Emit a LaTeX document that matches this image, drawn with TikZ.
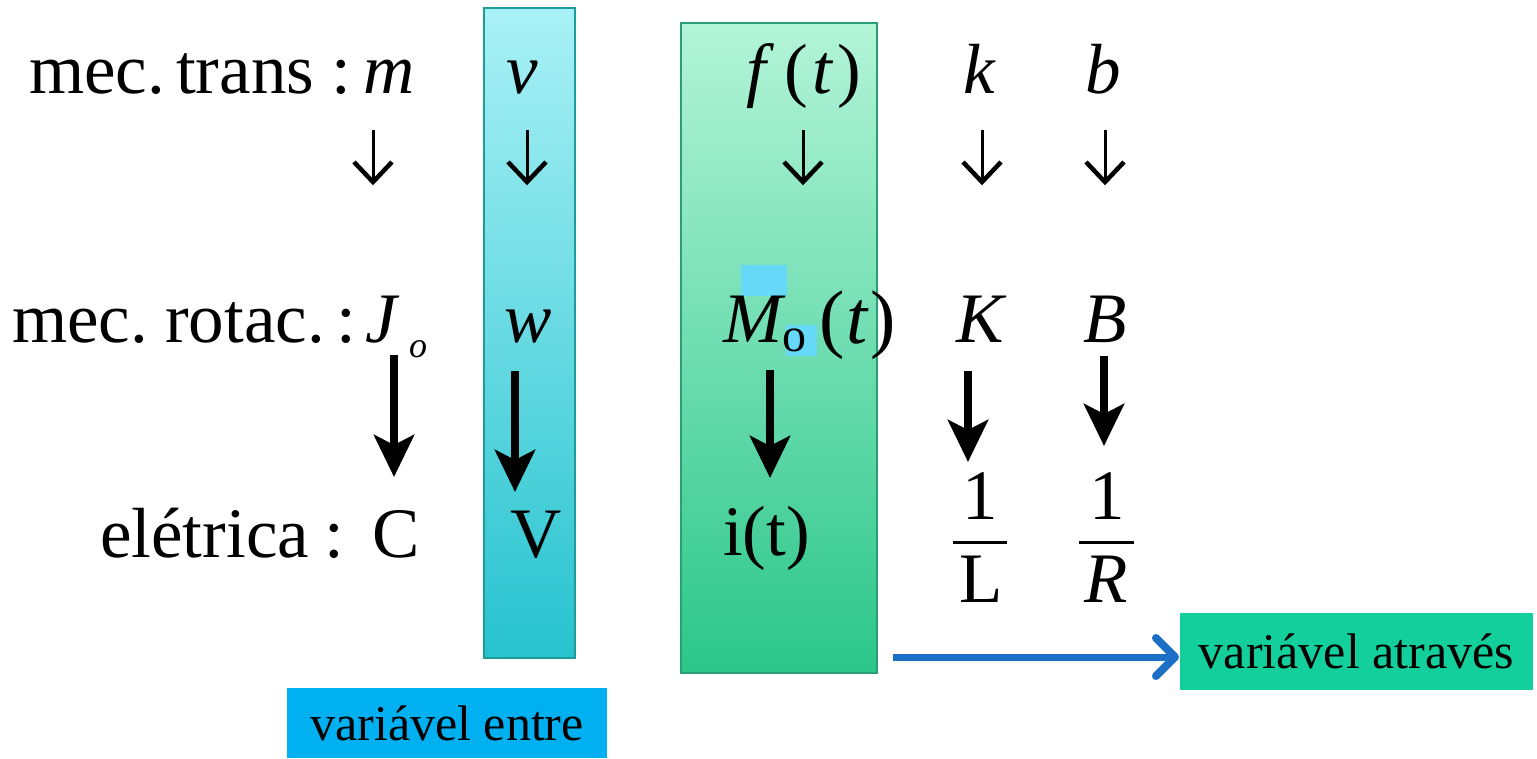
\documentclass[tikz,border=0pt]{standalone}
\usepackage{fontspec}
\setmainfont{Liberation Serif}
\usetikzlibrary{arrows.meta}
\definecolor{cyTop}{HTML}{A9F1F6}
\definecolor{cyBot}{HTML}{27C3CF}
\definecolor{cyBorder}{HTML}{1E9C9C}
\definecolor{grTop}{HTML}{B3F4D8}
\definecolor{grBot}{HTML}{2BC68A}
\definecolor{grBorder}{HTML}{2A9E74}
\definecolor{entreBlue}{HTML}{00B0F0}
\definecolor{atrGreen}{HTML}{13CF9B}
\definecolor{patch}{HTML}{66D8F8}
\definecolor{arrBlue}{HTML}{1B6FC5}
\begin{document}
\begin{tikzpicture}[x=1pt,y=-1pt,
  txt/.style={font=\fontsize{71}{80}\selectfont, inner sep=0pt, anchor=base},
  subtxt/.style={font=\fontsize{36}{40}\selectfont, inner sep=0pt, anchor=base},
  column/.style n args={3}{draw=#3, line width=1.5pt, top color=#1, bottom color=#2, inner sep=0pt},
  labelbox/.style={fill=#1, inner sep=0pt, font=\fontsize{50}{56}\selectfont},
  thinshaft/.style={line width=3pt},
  thinhead/.style={line width=4.5pt, line join=miter},
  thickarr/.style={line width=8pt, -{Stealth[length=42pt, width=40pt, inset=10pt]}},
  blueshaft/.style={draw=arrBlue, line width=7pt},
  bluehead/.style={draw=arrBlue, line width=8pt, line cap=round, line join=round},
  fracbar/.style={line width=3pt}
]
\useasboundingbox (0,0) rectangle (1537,758);

% columns
\node[column={cyTop}{cyBot}{cyBorder}, minimum width=91pt, minimum height=650pt] (vcol) at (529.5,333) {};
\node[column={grTop}{grBot}{grBorder}, minimum width=196pt, minimum height=650pt] (fcol) at (779,348) {};

% blue patches
\fill[patch] (741,265) rectangle (787,296);
\fill[patch] (786,325) rectangle (817,356);

% row 1
\node[txt, anchor=base west] (mec1) at (29,93) {mec.};
\node[txt, anchor=base west] (trans) at (176,93) {trans};
\node[txt] (colon1) at (341,93) {:};
\node[txt] (m) at (389,93) {\textit{m}};
\node[txt] (v) at (522,93) {\textit{v}};
\node[txt, anchor=base west] (f) at (746,93) {\textit{f}\kern10pt(\kern5pt\textit{t}\kern4pt)};
\node[txt] (k) at (980,93) {\textit{k}};
\node[txt] (b) at (1103,93) {\textit{b}};

% thin arrows (glyph-like down arrows)
\foreach \x in {373, 527, 803, 982, 1105} {
  \coordinate (ts\x) at (\x,130);
  \coordinate (te\x) at (\x,182);
  \draw[thinshaft] (ts\x) -- (te\x);
  \draw[thinhead] ([shift={(-19,-20)}]te\x) -- (te\x) -- ([shift={(19,-20)}]te\x);
}

% row 2
\node[txt, anchor=base west] (mec2) at (12,342) {mec.};
\node[txt, anchor=base west] (rotac) at (165,342) {rotac.};
\node[txt] (colon2) at (346,342) {:};
\node[txt] (J) at (383,342) {\textit{J}};
\node[subtxt] (Jo) at (418,357) {\textit{o}};
\node[txt] (w) at (528,342) {\textit{w}};
\node[txt, anchor=base west] (M) at (723,342) {\textit{M}};
\node[inner sep=0pt, anchor=base, font=\fontsize{48}{50}\selectfont] (Mo) at (794,351) {o};
\node[inner sep=0pt, anchor=base west, font=\fontsize{76}{82}\selectfont] (Mt) at (819,343) {(\kern2pt\textit{t}\kern1pt)};
\node[txt] (K) at (982,342) {\textit{K}};
\node[txt] (B) at (1105,342) {\textit{B}};

% thick arrows
\coordinate (ja1) at (394,355);  \coordinate (ja2) at (394,477);
\coordinate (wa1) at (515,371);  \coordinate (wa2) at (515,492);
\coordinate (ma1) at (770,370);  \coordinate (ma2) at (770,478);
\coordinate (ka1) at (968,371);  \coordinate (ka2) at (968,462);
\coordinate (ba1) at (1104,356); \coordinate (ba2) at (1104,446);
\draw[thickarr] (ja1) -- (ja2);
\draw[thickarr] (wa1) -- (wa2);
\draw[thickarr] (ma1) -- (ma2);
\draw[thickarr] (ka1) -- (ka2);
\draw[thickarr] (ba1) -- (ba2);

% row 3
\node[txt, anchor=base west] (el) at (100,557) {elétrica};
\node[txt] (colon3) at (334,557) {:};
\node[txt] (C) at (396,557) {C};
\node[txt] (V) at (536,557) {V};
\node[txt, anchor=base west] (i) at (723,555) {i(t)};
\node[txt] (one1) at (980,519) {1};
\node[txt] (L) at (981,602) {L};
\node[txt] (one2) at (1107,519) {1};
\node[txt] (R) at (1106,602) {\textit{R}};
\coordinate (bar1a) at (953,542); \coordinate (bar1b) at (1007,542);
\coordinate (bar2a) at (1079,542); \coordinate (bar2b) at (1134,542);
\draw[fracbar] (bar1a) -- (bar1b);
\draw[fracbar] (bar2a) -- (bar2b);

% label boxes
\node[labelbox=entreBlue, minimum width=320pt, minimum height=70pt] (entre) at (447,723) {variável entre};
\node[labelbox=atrGreen, minimum width=353pt, minimum height=77pt] (atr) at (1356.5,651.5) {variável através};

% blue arrow
\coordinate (bs) at (893,657);
\coordinate (bt) at (1175,657);
\draw[blueshaft] (bs) -- (bt);
\draw[bluehead] ([shift={(-19,-19)}]bt) -- (bt) -- ([shift={(-19,19)}]bt);
\end{tikzpicture}
\end{document}
